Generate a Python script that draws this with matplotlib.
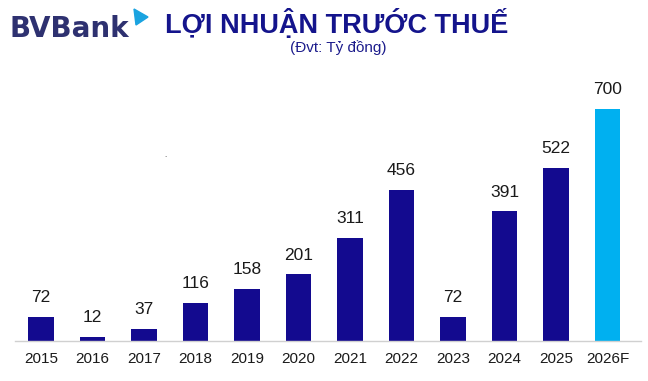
import matplotlib
matplotlib.use("Agg")
import matplotlib.pyplot as plt
from matplotlib import font_manager
from matplotlib.patches import Polygon

years = ["2015", "2016", "2017", "2018", "2019", "2020", "2021", "2022", "2023", "2024", "2025", "2026F"]
profits = [72, 12, 37, 116, 158, 201, 311, 456, 72, 391, 522, 700]
colors = ["#130A8F"] * 11 + ["#00B0F0"]

names = {f.name for f in font_manager.fontManager.ttflist}
narrow = "Liberation Sans Narrow" if "Liberation Sans Narrow" in names else "Liberation Sans"
base = "Liberation Sans"

W, H = 648, 381
fig = plt.figure(figsize=(W / 100, H / 100), dpi=100)

# axes in pixel coordinates
left_px, right_px, base_px, top_px = 15, 641, 341, 60
ax = fig.add_axes([left_px / W, (H - base_px) / H, (right_px - left_px) / W, (base_px - top_px) / H])
step = 51.5
ax.set_xlim(-(41 - left_px) / step, 11 + (right_px - 607.5) / step)
ax.set_ylim(0, (base_px - top_px) / (232 / 700))

x = range(len(years))
ax.bar(x, profits, width=0.495, color=colors)
for xi, v in zip(x, profits):
    ax.annotate(str(v), (xi, v), xytext=(0, 8.5), textcoords="offset points",
                ha="center", va="bottom", fontsize=12.5, color="#1a1a1a", family=base)

for s in ["top", "right", "left"]:
    ax.spines[s].set_visible(False)
ax.spines["bottom"].set_color("#d0d0d0")
ax.spines["bottom"].set_linewidth(1.0)
ax.set_yticks([])
ax.set_xticks(list(x))
ax.set_xticklabels(years, fontsize=11, color="#1a1a1a", family=base)
ax.tick_params(axis="x", length=0, pad=8)

# title and subtitle
fig.text(337 / W, 1 - 33 / H, "LỢI NHUẬN TRƯỚC THUẾ", ha="center", va="baseline",
         fontsize=19.5, fontweight="bold", color="#14148C", family=narrow)
fig.text(338 / W, 1 - 52 / H, "(Đvt: Tỷ đồng)", ha="center", va="baseline",
         fontsize=11, color="#1C1C8C", family=narrow)

# logo
fig.text(9 / W, 1 - 37 / H, "BVBank", ha="left", va="baseline",
         fontsize=20, fontweight="bold", color="#2E3170", family="DejaVu Sans")
tri = Polygon([[134 / W, 1 - 9 / H], [148 / W, 1 - 17 / H], [136 / W, 1 - 25 / H]],
              closed=True, transform=fig.transFigure, color="#1AA3E0")
fig.patches.append(tri)

# small stray dot
fig.text(165 / W, 1 - 155 / H, ".", ha="center", va="center", fontsize=5, color="#333333")

fig.savefig("out.png", dpi=100)
